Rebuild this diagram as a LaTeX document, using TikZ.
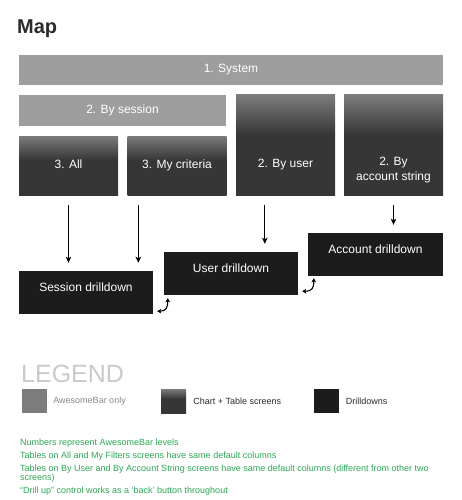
\documentclass[tikz,border=0pt]{standalone}
\usepackage{fontspec}
\setmainfont{Liberation Sans}
\usepackage{xcolor}
\usepackage{tikz}
\usetikzlibrary{arrows.meta,positioning,calc}
\definecolor{titlegray}{HTML}{2B2B2B}
\definecolor{bargray}{HTML}{9E9E9E}
\definecolor{chartlight}{HTML}{7C7C7C}
\definecolor{chartdark}{HTML}{363636}
\definecolor{drillblack}{HTML}{1C1C1C}
\definecolor{keygray}{HTML}{7C7C7C}
\definecolor{keytextgray}{HTML}{8A8A8A}
\definecolor{legendlight}{HTML}{CACACA}
\definecolor{notegreen}{HTML}{2BA854}
\pgfdeclareverticalshading{chartshade}{100bp}{color(0bp)=(chartdark); color(55bp)=(chartdark); color(75bp)=(chartlight); color(100bp)=(chartlight)}

\begin{document}
\begin{tikzpicture}[x=1pt, y=-1pt,
  every node/.style={inner sep=0pt, font=\fontsize{12}{15}\selectfont},
  barbox/.style={fill=bargray, text=white, minimum height=30pt},
  chartbox/.style={shading=chartshade, text=white, minimum width=99pt, text height=9pt, text depth=3pt},
  drillbox/.style={fill=drillblack, text=white, minimum width=134pt, minimum height=43pt, text height=9pt, text depth=11pt},
  boxlabel/.style={text=white, align=center},
  keybox/.style={minimum width=25pt, minimum height=24pt},
  keytext/.style={font=\fontsize{9}{11}\selectfont},
  note/.style={anchor=base west, align=left, text=notegreen, font=\fontsize{9}{9}\selectfont},
  flowarrow/.style={-{Stealth[length=6pt,width=5.5pt,inset=1.5pt]}, line width=0.9pt},
  backarrow/.style={{Stealth[length=4pt,width=4.5pt,inset=1pt]}-{Stealth[length=4pt,width=4.5pt,inset=1pt]}, line width=1.1pt}]
\useasboundingbox (0,0) rectangle (462,500);
\node[anchor=base west, text=titlegray, font=\fontsize{20}{24}\bfseries] (title) at (17,34) {Map};
% levels
\node[barbox, minimum width=424pt] (system) at (231,70) {1. System};
\node[barbox, minimum width=207pt, minimum height=31pt] (session) at (122.5,110.5) {2. By session};
\node[chartbox, minimum height=59pt] (all) at (68.5,165.5) {3. All};
\node[chartbox, minimum height=59pt] (crit) at (177,165.5) {3. My criteria};
\node[chartbox, minimum height=100pt, text height=0pt, text depth=0pt] (byuser) at (285.5,145) {};
\node[boxlabel] (byuser-text) at ([yshift=31pt]byuser.south) {2. By user};
\node[chartbox, minimum height=100pt, text height=0pt, text depth=0pt] (byacct) at (393.5,145) {};
\node[boxlabel] (byacct-text) at ([yshift=25pt]byacct.south) {2. By\\account string};
% drilldowns
\node[drillbox] (sessdd) at (86,292.5) {Session drilldown};
\node[drillbox] (userdd) at (231,273.5) {User drilldown};
\node[drillbox, minimum width=135pt] (acctdd) at (375.5,254.5) {Account drilldown};
\draw[flowarrow] ([yshift=-10pt]all.south) -- ([yshift=8pt]all.south |- sessdd.north);
\draw[flowarrow] ([xshift=11pt,yshift=-10pt]crit.south west) -- ([xshift=11pt,yshift=8pt]crit.south west |- sessdd.north);
\draw[flowarrow] ([xshift=29pt,yshift=-10pt]byuser.south west) -- ([xshift=29pt,yshift=8pt]byuser.south west |- userdd.north);
\draw[flowarrow] ([yshift=-10pt]byacct.south) -- ([yshift=8pt]byacct.south |- acctdd.north);
\draw[backarrow] ([xshift=4pt,yshift=3pt]sessdd.south east) .. controls +(9,0) and +(0,9) .. ([xshift=4pt,yshift=-3pt]userdd.south west);
\draw[backarrow] ([xshift=4pt,yshift=4pt]userdd.south east) .. controls +(10,0) and +(0,10) .. ([xshift=6pt,yshift=-2pt]acctdd.south west);
% legend
\node[anchor=base west, text=legendlight, font=\fontsize{25}{30}\selectfont] (legend) at (21,382) {LEGEND};
\node[keybox, fill=keygray] (keybar) at (34.5,401) {};
\node[keytext, text=keytextgray, right=6pt of keybar] (keybar-text) {AwesomeBar only};
\node[keybox, shading=chartshade] (keychart) at (173.5,401) {};
\node[keytext, text=titlegray, right=7pt of keychart] (keychart-text) {Chart + Table screens};
\node[keybox, fill=drillblack] (keydrill) at (326,401) {};
\node[keytext, text=titlegray, right=7pt of keydrill] (keydrill-text) {Drilldowns};
\node[note] (note1) at (20,445) {Numbers represent AwesomeBar levels};
\node[note] (note2) at (20,458) {Tables on All and My Filters screens have same default columns};
\node[note] (note3) at (20,480) {Tables on By User and By Account String screens have same default columns (different from other two\\screens)};
\node[note] (note4) at (20,493) {“Drill up” control works as a ‘back’ button throughout};
\end{tikzpicture}
\end{document}
